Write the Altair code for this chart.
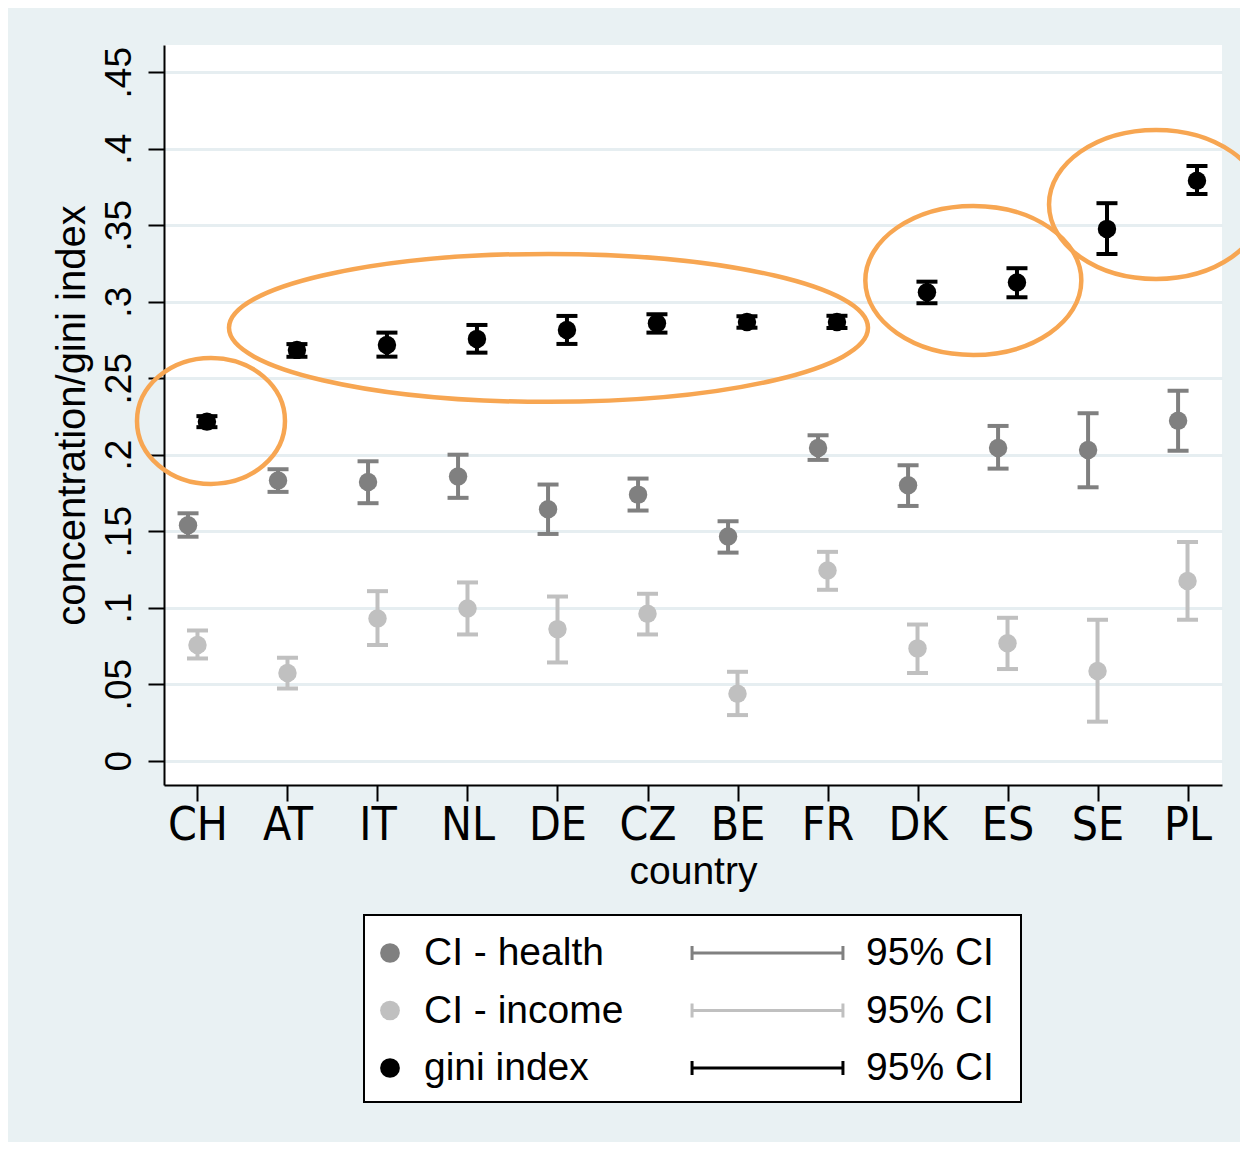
import altair as alt
import pandas as pd

countries = ["CH", "AT", "IT", "NL", "DE", "CZ", "BE", "FR", "DK", "ES", "SE", "PL"]

health = [0.1539, 0.1831, 0.1822, 0.1857, 0.1644, 0.1739, 0.1465, 0.2044, 0.1800, 0.2044, 0.2031, 0.2222]
health_lo = [0.1464, 0.1757, 0.1683, 0.1718, 0.1482, 0.1635, 0.1360, 0.1966, 0.1665, 0.1909, 0.1787, 0.2026]
health_hi = [0.1617, 0.1905, 0.1957, 0.2000, 0.1805, 0.1844, 0.1565, 0.2127, 0.1931, 0.2188, 0.2271, 0.2418]

income = [0.0756, 0.0573, 0.0930, 0.0995, 0.0860, 0.0960, 0.0438, 0.1243, 0.0734, 0.0768, 0.0586, 0.1174]
income_lo = [0.0668, 0.0472, 0.0756, 0.0825, 0.0642, 0.0825, 0.0298, 0.1117, 0.0573, 0.0599, 0.0255, 0.0921]
income_hi = [0.0851, 0.0673, 0.1108, 0.1165, 0.1073, 0.1091, 0.0581, 0.1365, 0.0890, 0.0934, 0.0921, 0.1430]

gini = [0.2216, 0.2685, 0.2717, 0.2757, 0.2815, 0.2859, 0.2868, 0.2868, 0.3062, 0.3125, 0.3476, 0.3791]
gini_lo = [0.2180, 0.2640, 0.2641, 0.2667, 0.2724, 0.2798, 0.2830, 0.2828, 0.2990, 0.3029, 0.3312, 0.3704]
gini_hi = [0.2252, 0.2723, 0.2798, 0.2848, 0.2907, 0.2918, 0.2905, 0.2908, 0.3131, 0.3219, 0.3644, 0.3887]

series_names = ["CI - health", "CI - income", "gini index"]
ci_names = ["health 95% CI", "income 95% CI", "gini 95% CI"]
series_colors = ["#808080", "#c0c0c0", "#000000"]
series_shift = [-0.105, 0.0, 0.105]

y_ticks = [0, 0.05, 0.1, 0.15, 0.2, 0.25, 0.3, 0.35, 0.4, 0.45]

# annotation ellipses: centre (country index, value), width/height in px
ell_x = [1.15, 4.90, 9.62, 11.65]
ell_y = [0.2221, 0.2829, 0.3139, 0.3636]
ell_w = [148, 639, 216, 214]
ell_h = [126, 148, 149, 149]

ORANGE = "#f7a652"
BG = "#e9f1f3"
NARROW = "Liberation Sans Narrow, DejaVu Sans Condensed, Liberation Sans"
REG = "Liberation Sans"

rows = []
caps = []
all_vals = [(health, health_lo, health_hi), (income, income_lo, income_hi), (gini, gini_lo, gini_hi)]
for s, (vals, los, his) in enumerate(all_vals):
    for i, c in enumerate(countries):
        pos = i + 1 + series_shift[s]
        rows.append({"pos": pos, "value": vals[i], "lo": los[i], "hi": his[i],
                     "series": series_names[s], "series_ci": ci_names[s]})
        caps.append({"pos": pos, "value": los[i], "col": series_colors[s]})
        caps.append({"pos": pos, "value": his[i], "col": series_colors[s]})
df = pd.DataFrame(rows)
df_caps = pd.DataFrame(caps)

ell_rows = []
for k in range(len(ell_x)):
    r = ell_h[k] / ell_w[k]
    path = f"M-1,0A1,{r:.4f},0,1,0,1,0A1,{r:.4f},0,1,0,-1,0Z"
    ell_rows.append({"pos": ell_x[k], "value": ell_y[k], "path": path, "sz": ell_w[k] ** 2})
df_ell = pd.DataFrame(ell_rows)

label_map = "[" + ",".join(f"'{c}'" for c in countries) + "]"

x_scale = alt.Scale(domain=[0.628, 12.383], nice=False, zero=False)
y_scale = alt.Scale(domain=[-0.0159, 0.4678], nice=False, zero=False)

x_axis = alt.Axis(
    values=list(range(1, 13)), labelExpr=f"{label_map}[datum.value - 1]",
    title="country", grid=False, tickSize=16, tickWidth=2, tickColor="black",
    domainColor="black", domainWidth=2, labelFont=NARROW, labelFontSize=46,
    labelColor="black", labelPadding=2, labelFlush=False, labelOverlap=False,
    titleFont=REG, titleFontSize=39, titleFontWeight="normal",
    titleColor="black", titlePadding=4)
y_axis = alt.Axis(
    values=y_ticks, labelExpr="datum.value == 0 ? '0' : replace(format(datum.value, '.2~f'), '0.', '.')",
    title="concentration/gini index", grid=True, gridColor="#e6eef1", gridWidth=3,
    tickSize=16, tickWidth=2, tickColor="black", domainColor="black", domainWidth=2,
    labelFont=REG, labelFontSize=37, labelColor="black", labelAngle=270,
    labelAlign="center", labelBaseline="alphabetic", labelPadding=18,
    labelFlush=False, labelOverlap=False,
    titleFont=REG, titleFontSize=40, titleFontWeight="normal", titleColor="black",
    titlePadding=8)

X = alt.X("pos:Q", scale=x_scale, axis=x_axis)


def Y(field):
    return alt.Y(field, scale=y_scale, axis=y_axis)


color_scale = alt.Scale(domain=series_names, range=series_colors)

rules = alt.Chart(df).mark_rule(strokeWidth=4).encode(
    x=X, y=Y("lo:Q"), y2="hi:Q",
    stroke=alt.Stroke("series_ci:N", scale=alt.Scale(domain=ci_names, range=series_colors),
                      legend=alt.Legend(
                          orient="none", legendX=584, legendY=888.5, title=None, padding=0,
                          symbolType="M-5.03,-0.47L-5.03,0.47M-5.03,0L5.03,0M5.03,-0.47L5.03,0.47",
                          symbolSize=900, symbolStrokeWidth=3, symbolOffset=0,
                          labelExpr="'95% CI'", labelFont=REG, labelFontSize=39,
                          labelColor="black", labelOffset=79, rowPadding=17.5,
                          labelLimit=400)),
)

ticks = alt.Chart(df_caps).mark_tick(orient="horizontal", size=21, thickness=4, opacity=1).encode(
    x=X, y=Y("value:Q"),
    color=alt.Color("col:N", scale=None),
)

points = alt.Chart(df).mark_circle(size=340, opacity=1).encode(
    x=X, y=Y("value:Q"),
    fill=alt.Fill("series:N", scale=color_scale, legend=alt.Legend(
        orient="none", legendX=206.5, legendY=888.5, title=None, padding=0,
        symbolType="circle", symbolSize=390, symbolStrokeWidth=0, symbolOffset=0,
        labelFont=REG, labelFontSize=39, labelColor="black", labelOffset=14.5,
        rowPadding=17.5, labelLimit=400)),
)

ellipses = alt.Chart(df_ell).mark_point(filled=False, stroke=ORANGE, strokeWidth=4.5, opacity=1).encode(
    x=X, y=Y("value:Q"),
    shape=alt.Shape("path:N", scale=None, legend=None),
    size=alt.Size("sz:Q", scale=None, legend=None),
)

frame = alt.Chart(pd.DataFrame({"k": [0]})).mark_rect(fill="white", stroke="black", strokeWidth=2).encode(
    x=alt.value(200), x2=alt.value(857), y=alt.value(870), y2=alt.value(1057),
)

chart = alt.layer(frame, rules, ticks, points, ellipses).properties(
    width=1058, height=740,
    padding={"left": 156, "top": 37, "right": 18, "bottom": 357},
    autosize=alt.AutoSizeParams(type="none"),
    background=BG,
).configure_view(fill="white", strokeWidth=0)

chart.save("out.html", embed_options={"renderer": "svg", "actions": False})
